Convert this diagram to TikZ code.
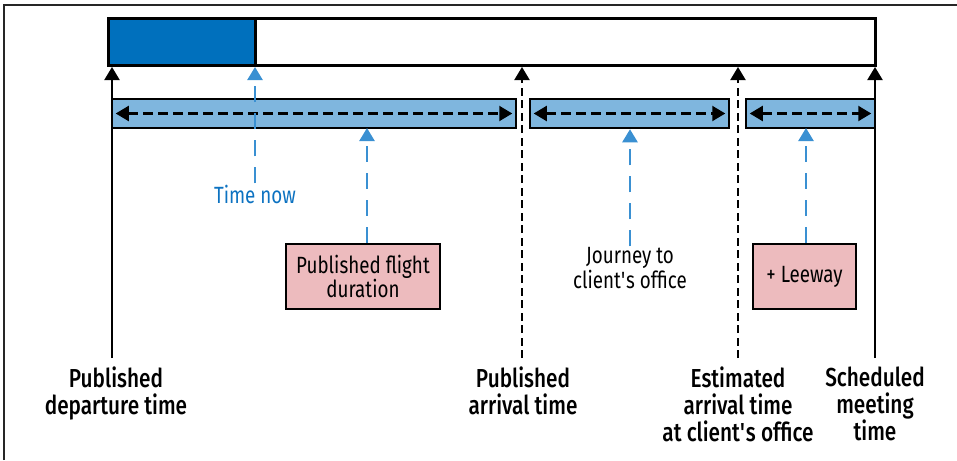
\documentclass[tikz,border=0pt]{standalone}
\usepackage{fontspec}
\setmainfont{Fira Sans}[FakeStretch=0.8]
\newfontfamily\labelfont{Fira Sans Medium}[FakeStretch=0.8]
\usetikzlibrary{arrows.meta}

\definecolor{deepblue}{HTML}{0070BD}
\definecolor{barblue}{HTML}{7FB6DE}
\definecolor{pointblue}{HTML}{3A90D2}
\definecolor{noteblue}{HTML}{0C72C1}
\definecolor{notepink}{HTML}{EDBBBE}
\definecolor{framegray}{HTML}{262626}

\tikzset{
  tip/.style={-{Triangle[width=15pt,length=13pt]}},
  twotips/.style={{Triangle[width=15pt,length=13pt]}-{Triangle[width=15pt,length=13pt]}},
  track/.style={draw=black, line width=3pt, minimum height=47pt, inner sep=0pt, anchor=center},
  span/.style={draw=black, fill=barblue, line width=2.5pt, minimum height=29pt, inner sep=0pt},
  notefont/.style={font=\fontsize{23.5}{23}\selectfont},
  note/.style={draw=black, fill=notepink, line width=2.5pt, minimum height=65pt, inner sep=0pt, align=center, notefont},
  marker/.style={line width=2pt, tip},
  dashmarker/.style={line width=2pt, tip, dash pattern=on 8pt off 4.5pt},
  spanarrow/.style={line width=2.2pt, twotips, dash pattern=on 10pt off 5pt},
  pointer/.style={line width=2.4pt, draw=pointblue, tip, dash pattern=on 16pt off 11pt},
  timelabel/.style={align=center, inner sep=0pt, anchor=north, font=\labelfont\fontsize{26}{27}\selectfont},
}

\begin{document}
\begin{tikzpicture}[x=1pt, y=-1pt]
  \useasboundingbox (0,0) rectangle (957,460);

  % page frame: top and left rules
  \draw[framegray, line width=1.6pt] (4,460) -- (4,5) -- (957,5);

  % time track with the elapsed part shaded
  \node[track, fill=deepblue, minimum width=147pt] (elapsed) at (181.5,42) {};
  \node[track, minimum width=767pt] (trackbar) at (491.5,42) {};

  % foot points of the time markers
  \coordinate (depart) at (112,358);
  \coordinate (arrive) at (522,358);
  \coordinate (estim) at (738,358);
  \coordinate (meet) at (875,358);

  \draw[marker] (depart) -- (depart |- trackbar.south);
  \draw[dashmarker] (arrive) -- (arrive |- trackbar.south);
  \draw[dashmarker] (estim) -- (estim |- trackbar.south);
  \draw[marker] (meet) -- (meet |- trackbar.south);

  % interval bars
  \node[span, minimum width=404pt] (flight) at (314,113.5) {};
  \node[span, minimum width=199pt] (journey) at (629.5,113.5) {};
  \node[span, minimum width=129pt] (leeway) at (810.5,113.5) {};

  \draw[spanarrow] ([xshift=5pt]flight.west) -- ([xshift=-5pt]flight.east);
  \draw[spanarrow] ([xshift=5pt]journey.west) -- ([xshift=-5pt]journey.east);
  \draw[spanarrow] ([xshift=5pt]leeway.west) -- ([xshift=-5pt]leeway.east);

  % notes under the bars
  \node[text=noteblue, inner sep=1pt, notefont] (now) at (255,194) {Time now};
  \node[note, minimum width=154pt] (flightnote) at (363,276.5) {Published flight\\duration};
  \node[align=center, inner sep=1pt, notefont] (journeynote) at (630,268) {Journey to\\client\textquotesingle s office};
  \node[note, minimum width=103pt] (leewaynote) at (804.5,276.5) {+ Leeway};

  \draw[pointer] (now.north) -- (now.north |- trackbar.south);
  \draw[pointer] (flightnote.north -| 367,0) -- (367,128);
  \draw[pointer] (journeynote.north) -- (journeynote.north |- journey.south);
  \draw[pointer] (leewaynote.north -| 806,0) -- (806,128);

  % time marker labels
  \node[timelabel] (departlbl) at (116,367) {Published\\departure time};
  \node[timelabel] (arrivelbl) at (523,367) {Published\\arrival time};
  \node[timelabel] (estimlbl) at (738,367) {Estimated\\arrival time\\at client\textquotesingle s office};
  \node[timelabel] (meetlbl) at (875,367) {Scheduled\\meeting\\time};
\end{tikzpicture}
\end{document}
